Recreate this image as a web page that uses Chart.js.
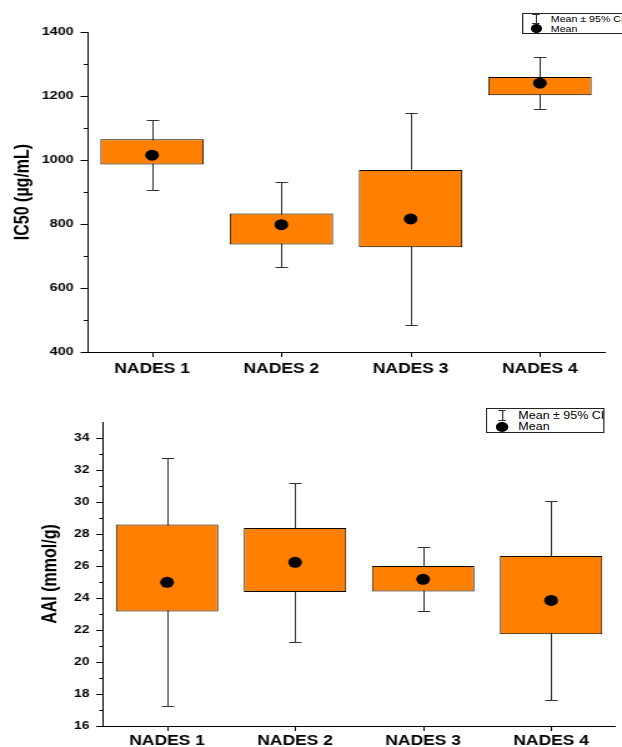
<!DOCTYPE html>
<html>
<head>
<meta charset="utf-8">
<script src="https://cdn.jsdelivr.net/npm/chart.js@4.4.1/dist/chart.umd.min.js"></script>
<style>
  html, body { margin: 0; padding: 0; background: #fff; width: 622px; height: 747px; overflow: hidden; }
  /* the figure is drawn narrow and stretched sideways, like the source image */
  #stage { position: absolute; left: 0; top: 0; width: 498px; height: 747px; transform: scaleX(1.249); transform-origin: 0 0; }
  .pane { position: absolute; left: 0; width: 498px; }
  .legend { position: absolute; border: 1px solid #222; box-sizing: border-box; background: #fff;
            font: 10px "Liberation Sans", Arial, sans-serif; color: #000; }
  .legend span { position: absolute; white-space: nowrap; line-height: 10px; }
  .legend .bar { position: absolute; width: 1px; background: #333; }
  .legend .cap { position: absolute; width: 6px; height: 1px; background: #333; }
  .legend .dot { position: absolute; border-radius: 50%; background: #000; }
</style>
</head>
<body>
<div id="stage">
  <div class="pane" style="top:0;height:385px"><canvas id="ic50"></canvas></div>
  <div class="pane" style="top:385px;height:362px"><canvas id="aai"></canvas></div>

  <div class="legend" style="left:418px;top:13px;width:110px;height:21px;font-size:8.5px">
    <div class="bar" style="left:10px;top:0;height:9px"></div>
    <div class="cap" style="left:7px;top:0"></div>
    <div class="cap" style="left:7px;top:9px"></div>
    <div class="dot" style="left:6px;top:10px;width:9px;height:9px"></div>
    <span style="left:22px;top:0">Mean ± 95% CI</span>
    <span style="left:22px;top:10px">Mean</span>
  </div>

  <div class="legend" style="left:389px;top:408px;width:95px;height:25px">
    <div class="bar" style="left:12px;top:1px;height:10px"></div>
    <div class="cap" style="left:9px;top:1px"></div>
    <div class="cap" style="left:9px;top:11px"></div>
    <div class="dot" style="left:7px;top:13px;width:10px;height:10px"></div>
    <span style="left:25px;top:2px">Mean ± 95% CI</span>
    <span style="left:25px;top:13px">Mean</span>
  </div>
</div>

<script>
const categories = ['NADES 1', 'NADES 2', 'NADES 3', 'NADES 4'];

// IC50 (µg/mL)
const ic50BoxLow  = [986, 736, 727, 1202];
const ic50BoxHigh = [1065, 833, 969, 1259];
const ic50Mean    = [1015, 798, 816, 1240];
const ic50CiLow   = [905, 666, 483, 1158];
const ic50CiHigh  = [1124, 931, 1148, 1322];
const ic50Ticks   = [400, 600, 800, 1000, 1200, 1400];
const ic50Minor   = [500, 700, 900, 1100, 1300];

// AAI (mmol/g)
const aaiBoxLow  = [23.15, 24.38, 24.4, 21.73];
const aaiBoxHigh = [28.6, 28.38, 26.0, 26.63];
const aaiMean    = [24.98, 26.23, 25.17, 23.85];
const aaiCiLow   = [17.23, 21.25, 23.17, 17.65];
const aaiCiHigh  = [32.77, 31.21, 27.21, 30.08];
const aaiTicks   = [16, 18, 20, 22, 24, 26, 28, 30, 32, 34];
const aaiMinor   = [17, 19, 21, 23, 25, 27, 29, 31, 33];

const FONT = '"Liberation Sans", Arial, sans-serif';
const ORANGE = '#FF8000';

// CI whiskers behind the boxes, and the outward tick marks
const boxExtras = {
  id: 'boxExtras',
  beforeDatasetsDraw(chart, args, opts) {
    const { ctx, scales: { x, y } } = chart;
    ctx.save();
    ctx.strokeStyle = '#333';
    ctx.lineWidth = 1;
    ctx.beginPath();
    opts.lo.forEach((lo, i) => {
      const px = Math.round(x.getPixelForValue(i)) + 0.5;
      const yLo = Math.round(y.getPixelForValue(lo)) + 0.5;
      const yHi = Math.round(y.getPixelForValue(opts.hi[i])) + 0.5;
      ctx.moveTo(px, yLo); ctx.lineTo(px, yHi);
      ctx.moveTo(px - 5, yLo); ctx.lineTo(px + 5, yLo);
      ctx.moveTo(px - 5, yHi); ctx.lineTo(px + 5, yHi);
    });
    ctx.stroke();
    ctx.restore();
  },
  afterDraw(chart, args, opts) {
    const { ctx, chartArea: area, scales: { x, y } } = chart;
    ctx.save();
    ctx.strokeStyle = '#000';
    ctx.lineWidth = 1;
    ctx.beginPath();
    opts.major.forEach(v => {
      const py = Math.round(y.getPixelForValue(v)) + 0.5;
      ctx.moveTo(area.left - 5.5, py); ctx.lineTo(area.left, py);
    });
    opts.minor.forEach(v => {
      const py = Math.round(y.getPixelForValue(v)) + 0.5;
      ctx.moveTo(area.left - 3, py); ctx.lineTo(area.left, py);
    });
    categories.forEach((c, i) => {
      const px = Math.round(x.getPixelForValue(i)) + 0.5;
      ctx.moveTo(px, area.bottom); ctx.lineTo(px, area.bottom + 5);
    });
    ctx.stroke();
    ctx.restore();
  }
};

const boxChart = (id, o) => new Chart(document.getElementById(id), {
  data: {
    labels: categories,
    datasets: [
      {
        type: 'bar',
        order: 2,
        data: o.lo.map((lo, i) => [lo, o.hi[i]]),
        backgroundColor: ORANGE,
        borderColor: '#000',
        borderWidth: 1,
        borderSkipped: false,
        barPercentage: 0.8,
        categoryPercentage: 1
      },
      {
        type: 'line',
        order: 1,
        data: o.mean,
        showLine: false,
        pointRadius: 5.5,
        pointBackgroundColor: '#000',
        pointBorderWidth: 0
      }
    ]
  },
  options: {
    responsive: true,
    maintainAspectRatio: false,
    animation: false,
    layout: { padding: { top: o.padTop, right: o.padRight, left: 0, bottom: 0 } },
    plugins: {
      legend: { display: false },
      tooltip: { enabled: false },
      boxExtras: { lo: o.ciLo, hi: o.ciHi, major: o.major, minor: o.minor }
    },
    scales: {
      x: {
        afterFit: (s) => { s.height = o.xHeight; },
        grid: { display: false, drawTicks: false },
        border: { display: true, color: '#000', width: 1 },
        ticks: { color: '#000', padding: o.xPad, font: { family: FONT, size: 14, weight: 'bold' } }
      },
      y: {
        min: o.min,
        max: o.max,
        afterBuildTicks: (s) => { s.ticks = o.major.map(v => ({ value: v })); },
        afterFit: (s) => { s.width = o.yWidth; },
        grid: { display: false, drawTicks: false },
        border: { display: true, color: '#000', width: 1 },
        ticks: {
          color: '#000',
          padding: 11,
          callback: (v) => String(v),
          font: { family: FONT, size: o.tickSize, weight: 'bold' }
        },
        title: {
          display: true,
          text: o.title,
          color: '#000',
          padding: { top: o.titlePad, bottom: 0 },
          font: { family: FONT, size: 16, weight: 'bold' }
        }
      }
    }
  },
  plugins: [boxExtras]
});

boxChart('ic50', {
  lo: ic50BoxLow, hi: ic50BoxHigh, mean: ic50Mean, ciLo: ic50CiLow, ciHi: ic50CiHigh,
  min: 400, max: 1400, major: ic50Ticks, minor: ic50Minor,
  title: 'IC50 (µg/mL)', titlePad: 9, tickSize: 11.5,
  yWidth: 70, padTop: 32, padRight: 14, xHeight: 33, xPad: 9
});

boxChart('aai', {
  lo: aaiBoxLow, hi: aaiBoxHigh, mean: aaiMean, ciLo: aaiCiLow, ciHi: aaiCiHigh,
  min: 16, max: 35, major: aaiTicks, minor: aaiMinor,
  title: 'AAI (mmol/g)', titlePad: 31, tickSize: 11,
  yWidth: 82.5, padTop: 37, padRight: 1.5, xHeight: 21, xPad: 7
});
</script>
</body>
</html>
